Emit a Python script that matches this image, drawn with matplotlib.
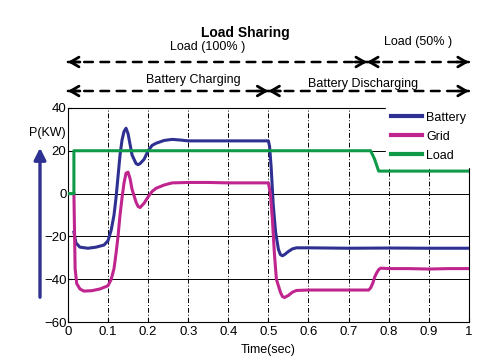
import matplotlib.pyplot as plt
from matplotlib.patches import FancyArrowPatch

plt.rcParams["font.family"] = ["Liberation Sans", "DejaVu Sans"]

# time breakpoints and values
battery_t = [0.015, 0.02, 0.03, 0.05, 0.07, 0.09, 0.10, 0.108, 0.115, 0.12, 0.125, 0.13, 0.135, 0.14,
             0.145, 0.15, 0.155, 0.16, 0.17, 0.175, 0.18, 0.19, 0.20, 0.21, 0.22, 0.24, 0.26, 0.28,
             0.30, 0.35, 0.40, 0.45, 0.50, 0.503, 0.507, 0.512, 0.518, 0.525, 0.53, 0.535, 0.54,
             0.55, 0.56, 0.57, 0.60, 0.70, 0.80, 0.90, 1.0]
battery_p = [-18, -23, -25, -25.5, -25, -24, -22, -17, -10, -2, 8, 18, 25, 29,
             30.5, 28, 23, 18, 14, 13.5, 14, 16, 20, 22.5, 23.5, 24.8, 25.3, 25,
             24.6, 24.6, 24.6, 24.6, 24.6, 22, 12, -5, -18, -26, -28.5, -29, -28.5,
             -27, -25.8, -25.3, -25.3, -25.5, -25.4, -25.5, -25.5]

grid_t = [0.015, 0.018, 0.022, 0.03, 0.04, 0.06, 0.08, 0.10, 0.108, 0.115, 0.12, 0.125, 0.13, 0.135,
          0.14, 0.145, 0.15, 0.155, 0.16, 0.17, 0.175, 0.18, 0.19, 0.20, 0.21, 0.22, 0.24, 0.26,
          0.30, 0.35, 0.40, 0.45, 0.50, 0.505, 0.51, 0.515, 0.52, 0.53, 0.535, 0.54, 0.55, 0.56,
          0.57, 0.60, 0.65, 0.70, 0.75, 0.755, 0.76, 0.765, 0.77, 0.775, 0.78, 0.80, 0.85, 0.90,
          0.95, 1.0]
grid_p = [0, -35, -42, -44.5, -45.5, -45.3, -44.5, -43, -40, -35, -28, -20, -10, -2,
          5, 9.5, 10, 7, 2, -4, -6, -6.5, -4.5, -1.5, 1, 2.5, 4, 5,
          5.2, 5.2, 5, 5, 5, 0, -12, -28, -40, -46, -48, -48.5, -47.5, -46,
          -45.2, -45, -45, -45, -45, -44, -42, -39, -37, -35.5, -34.8, -35, -35, -35.2,
          -35, -35]

load_t = [0.0, 0.015, 0.015, 0.755, 0.765, 0.775, 1.0]
load_p = [0, 0, 20, 20, 16, 10.5, 10.5]

x_ticks = [0, 0.1, 0.2, 0.3, 0.4, 0.5, 0.6, 0.7, 0.8, 0.9, 1]
x_labels = ["0", "0.1", "0.2", "0.3", "0.4", "0.5", "0.6", "0.7", "0.8", "0.9", "1"]
y_ticks = [-60, -40, -20, 0, 20, 40]

c_battery = "#2e3192"
c_grid = "#c0258f"
c_load = "#0f9a48"

fig = plt.figure(figsize=(4.92, 3.62), dpi=100)
ax = fig.add_axes([0.138, 0.110, 0.815, 0.592])

ax.plot(battery_t, battery_p, color=c_battery, lw=2.2, label="Battery", zorder=3)
ax.plot(grid_t, grid_p, color=c_grid, lw=2.2, label="Grid", zorder=3)
ax.plot(load_t, load_p, color=c_load, lw=2.2, label="Load", zorder=3)

ax.set_xlim(0, 1)
ax.set_ylim(-60, 40)
ax.set_xticks(x_ticks)
ax.set_xticklabels(x_labels)
ax.set_yticks(y_ticks)
ax.tick_params(labelsize=9.5, direction="in", length=3)
ax.tick_params(axis="x", pad=3)
ax.tick_params(axis="y", pad=1)
for t in x_ticks[1:-1]:
    ax.axvline(t, color="black", lw=0.7, ls=(0, (5, 2, 1, 2)), zorder=1)
for v in y_ticks[1:-1]:
    ax.axhline(v, color="black", lw=0.7, zorder=1)
for s in ax.spines.values():
    s.set_linewidth(0.8)

ax.set_xlabel("Time(sec)", fontsize=9, labelpad=4)

leg = ax.legend(loc="upper right", bbox_to_anchor=(1.005, 1.005), fontsize=9, frameon=True,
                handlelength=2.5, handletextpad=0.3, labelspacing=0.55, borderpad=0.4,
                borderaxespad=0, fancybox=False, edgecolor="white", framealpha=1)
for h in leg.get_lines():
    h.set_linewidth(3)
leg.set_zorder(5)

# y axis label with arrow
fig.text(47 / 492, 1 - 133 / 362, "P(KW)", fontsize=9, ha="center", va="center")
fig.add_artist(FancyArrowPatch(
    (40 / 492, 1 - 300 / 362), (40 / 492, 1 - 145 / 362), transform=fig.transFigure,
    arrowstyle="-|>,head_length=7,head_width=3.5", color=c_battery, lw=2.4))

fig.text(245 / 492, 1 - 33 / 362, "Load Sharing", fontsize=10, fontweight="bold", ha="center", va="center")


def span(x0, x1, y):
    yf = 1 - y / 362
    coords = ("data", "figure fraction")
    ax.annotate("", xy=(x1, yf), xytext=(x0, yf), xycoords=coords, textcoords=coords,
                arrowprops=dict(arrowstyle="-", lw=1.8, ls=(0, (3.5, 3)), color="black",
                                shrinkA=0, shrinkB=0))
    for a, b in [(x0, x0 + 0.03), (x1, x1 - 0.03)]:
        ax.annotate("", xy=(a, yf), xytext=(b, yf), xycoords=coords, textcoords=coords,
                    arrowprops=dict(arrowstyle="->,head_length=0.6,head_width=0.35", lw=2,
                                    color="black", shrinkA=0, shrinkB=0))


span(0, 0.746, 62)
span(0.746, 1, 62)
span(0, 0.5, 91)
span(0.5, 1, 91)

fig.text(208 / 492, 1 - 47 / 362, "Load (100% )", fontsize=9, ha="center", va="center")
fig.text(418 / 492, 1 - 42 / 362, "Load (50% )", fontsize=9, ha="center", va="center")
fig.text(193 / 492, 1 - 80 / 362, "Battery Charging", fontsize=9, ha="center", va="center")
fig.text(363 / 492, 1 - 84 / 362, "Battery Discharging", fontsize=9, ha="center", va="center")

fig.savefig("out.png", dpi=100)
